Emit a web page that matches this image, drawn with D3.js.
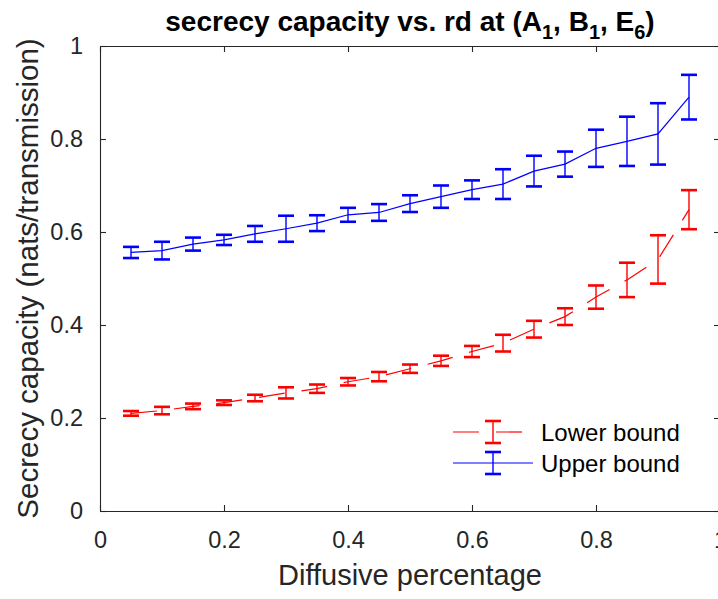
<!DOCTYPE html>
<html>
<head>
<meta charset="utf-8">
<script src="https://cdn.jsdelivr.net/npm/d3@7"></script>
<style>
  html, body { margin: 0; padding: 0; background: #fff; }
  svg { display: block; font-family: "Liberation Sans", Arial, Helvetica, sans-serif; }
</style>
</head>
<body>
<svg id="chart" width="718" height="599"></svg>
<script>
// ---- data ----
const rdValues = [0.05, 0.10, 0.15, 0.20, 0.25, 0.30, 0.35, 0.40, 0.45, 0.50,
                  0.55, 0.60, 0.65, 0.70, 0.75, 0.80, 0.85, 0.90, 0.95];
const upperMean = [0.556, 0.560, 0.574, 0.583, 0.596, 0.607, 0.619, 0.637, 0.642, 0.661,
                   0.676, 0.691, 0.703, 0.731, 0.746, 0.780, 0.795, 0.811, 0.890];
const upperErr  = [0.012, 0.019, 0.014, 0.011, 0.017, 0.028, 0.017, 0.015, 0.018, 0.018,
                   0.024, 0.020, 0.032, 0.033, 0.027, 0.040, 0.053, 0.066, 0.048];
const lowerMean = [0.210, 0.216, 0.225, 0.233, 0.243, 0.254, 0.263, 0.278, 0.289, 0.306,
                   0.323, 0.343, 0.361, 0.391, 0.418, 0.460, 0.497, 0.541, 0.648];
const lowerErr  = [0.005, 0.008, 0.006, 0.005, 0.007, 0.012, 0.009, 0.008, 0.010, 0.009,
                   0.011, 0.012, 0.018, 0.018, 0.018, 0.025, 0.037, 0.052, 0.042];
const xTicks = [0, 0.2, 0.4, 0.6, 0.8, 1];
const yTicks = [0, 0.2, 0.4, 0.6, 0.8, 1];
const seriesNames = ["Lower bound", "Upper bound"];
const titleText = "secrecy capacity vs. rd at (A1, B1, E6)";
const xLabel = "Diffusive percentage";
const yLabel = "Secrecy capacity (nats/transmission)";

(function () {
// ---- layout ----
const L = 100, R = 720, T = 46, B = 511;
const axisColor = "#262626";
const svg = d3.select("#chart");
const x = d3.scaleLinear().domain([0, 1]).range([L, R]);
const y = d3.scaleLinear().domain([0, 1]).range([B, T]);

const series = [
  { name: seriesNames[0], color: "#ff0000", dash: "26,17",
    pts: rdValues.map((v, i) => ({ x: v, y: lowerMean[i], e: lowerErr[i] })) },
  { name: seriesNames[1], color: "#0000ff", dash: null,
    pts: rdValues.map((v, i) => ({ x: v, y: upperMean[i], e: upperErr[i] })) }
];

// ---- axes (box with inward ticks) ----
const tickLen = 6;
const fmt = d => String(d);

const axBottom = d3.axisBottom(x).tickValues(xTicks).tickSizeInner(-tickLen).tickSizeOuter(0).tickPadding(20).tickFormat(fmt);
const axTop = d3.axisTop(x).tickValues(xTicks).tickSizeInner(-tickLen).tickSizeOuter(0).tickFormat("");
const axLeft = d3.axisLeft(y).tickValues(yTicks).tickSizeInner(-tickLen).tickSizeOuter(0).tickPadding(17).tickFormat(fmt);
const axRight = d3.axisRight(y).tickValues(yTicks).tickSizeInner(-tickLen).tickSizeOuter(0).tickFormat("");

function styleAxis(g) {
  g.select(".domain").attr("stroke", axisColor).attr("stroke-width", 1.1);
  g.selectAll(".tick line").attr("stroke", axisColor).attr("stroke-width", 1.1);
  g.selectAll(".tick text").attr("fill", axisColor).attr("font-size", 23.5)
    .attr("font-family", "Liberation Sans, Arial, sans-serif");
}
svg.append("g").attr("transform", `translate(0,${B})`).call(axBottom).call(styleAxis);
svg.append("g").attr("transform", `translate(0,${T})`).call(axTop).call(styleAxis);
svg.append("g").attr("transform", `translate(${L},0)`).call(axLeft).call(styleAxis);
svg.append("g").attr("transform", `translate(${R},0)`).call(axRight).call(styleAxis);

// ---- series ----
const capHalf = 8;
const line = d3.line().x(d => x(d.x)).y(d => y(d.y));
series.forEach(s => {
  const g = svg.append("g");
  g.append("path").datum(s.pts).attr("d", line).attr("fill", "none")
    .attr("stroke", s.color).attr("stroke-width", 1.2)
    .attr("stroke-dasharray", s.dash);
  const eb = g.selectAll(".eb").data(s.pts).enter().append("g");
  eb.append("line").attr("x1", d => x(d.x)).attr("x2", d => x(d.x))
    .attr("y1", d => y(d.y + d.e)).attr("y2", d => y(d.y - d.e))
    .attr("stroke", s.color).attr("stroke-width", 1.4);
  eb.append("line").attr("x1", d => x(d.x) - capHalf).attr("x2", d => x(d.x) + capHalf)
    .attr("y1", d => y(d.y + d.e)).attr("y2", d => y(d.y + d.e))
    .attr("stroke", s.color).attr("stroke-width", 2.6);
  eb.append("line").attr("x1", d => x(d.x) - capHalf).attr("x2", d => x(d.x) + capHalf)
    .attr("y1", d => y(d.y - d.e)).attr("y2", d => y(d.y - d.e))
    .attr("stroke", s.color).attr("stroke-width", 2.6);
});

// ---- legend ----
const legY = [432, 463];
series.forEach((s, i) => {
  const g = svg.append("g");
  const ly = legY[i];
  g.append("line").attr("x1", 453).attr("x2", 533).attr("y1", ly).attr("y2", ly)
    .attr("stroke", s.color).attr("stroke-width", 1.2).attr("stroke-dasharray", s.dash);
  g.append("line").attr("x1", 493).attr("x2", 493).attr("y1", ly - 11).attr("y2", ly + 11)
    .attr("stroke", s.color).attr("stroke-width", 1.4);
  [ly - 11, ly + 11].forEach(cy => g.append("line").attr("x1", 493 - capHalf).attr("x2", 493 + capHalf)
    .attr("y1", cy).attr("y2", cy).attr("stroke", s.color).attr("stroke-width", 2.6));
  g.append("text").attr("x", 541).attr("y", ly + 9).attr("font-size", 24)
    .attr("fill", "#000").text(s.name);
});

// ---- labels ----
svg.append("text").attr("x", (L + R) / 2).attr("y", 585).attr("text-anchor", "middle")
  .attr("font-size", 29).attr("fill", axisColor).text(xLabel);
svg.append("text").attr("transform", `translate(38,${(T + B) / 2}) rotate(-90)`)
  .attr("text-anchor", "middle").attr("font-size", 29.5).attr("fill", axisColor).text(yLabel);

// title with subscripts
const tParts = titleText.match(/^(.*\(A)(1)(, B)(1)(, E)(6)(\))$/);
const title = svg.append("text").attr("x", (L + R) / 2).attr("y", 31)
  .attr("text-anchor", "middle").attr("font-size", 28).attr("font-weight", "bold").attr("fill", "#000");
title.append("tspan").text(tParts[1]);
title.append("tspan").attr("font-size", 20).attr("dy", 8).text(tParts[2]);
title.append("tspan").attr("dy", -8).text(tParts[3]);
title.append("tspan").attr("font-size", 20).attr("dy", 8).text(tParts[4]);
title.append("tspan").attr("dy", -8).text(tParts[5]);
title.append("tspan").attr("font-size", 20).attr("dy", 8).text(tParts[6]);
title.append("tspan").attr("dy", -8).text(tParts[7]);
})();
</script>
</body>
</html>
